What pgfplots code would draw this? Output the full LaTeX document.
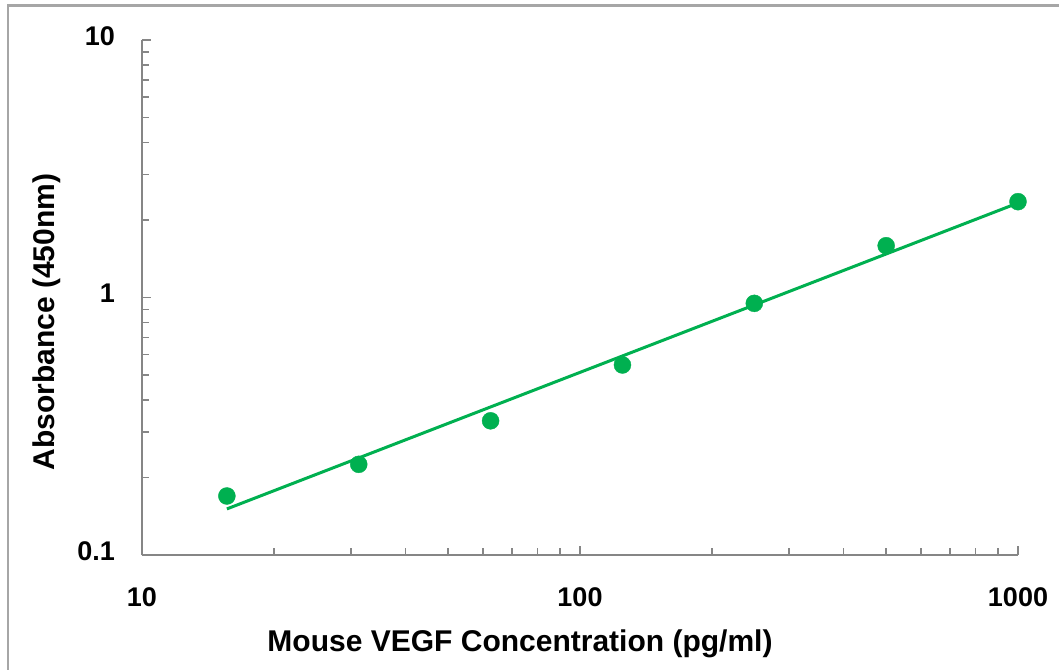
\documentclass[border=0pt]{standalone}
\usepackage{fontspec}
\setmainfont{Liberation Sans}
\usepackage{pgfplots}
\pgfplotsset{compat=1.18}
\definecolor{fitgreen}{RGB}{0,176,80}
\definecolor{axisgray}{RGB}{134,134,134}
\definecolor{framegray}{RGB}{166,166,166}

\begin{document}
\begin{tikzpicture}
\useasboundingbox (-142pt,-114pt) rectangle (917pt,555pt);
% outer chart frame (cut by the image on right and bottom)
\draw[framegray, line width=2.5pt] (-134pt,-130pt) -- (-134pt,549.5pt) -- (930pt,549.5pt);
\begin{axis}[
    scale only axis, width=876pt, height=515pt,
    xmode=log, ymode=log,
    xmin=10, xmax=1000, ymin=0.1, ymax=10,
    axis x line*=bottom, axis y line*=left,
    axis line style={axisgray, line width=2pt},
    tick style={axisgray, line width=1.5pt},
    tick align=inside,
    major tick length=9pt, minor tick length=7pt,
    xtick={10,100,1000}, xticklabels={10,100,1000},
    ytick={0.1,1,10}, yticklabels={0.1,1,10},
    minor xtick={20,30,40,50,60,70,80,90,200,300,400,500,600,700,800,900},
    minor ytick={0.2,0.3,0.4,0.5,0.6,0.7,0.8,0.9,2,3,4,5,6,7,8,9},
    /pgf/number format/assume math mode=true,
    every tick label/.append style={font=\fontsize{27}{27}\selectfont\bfseries, inner sep=0pt},
    xticklabel style={anchor=north, yshift=-32pt},
    yticklabel style={anchor=east, xshift=-27pt, yshift=4pt},
    label style={font=\fontsize{30}{32}\selectfont\bfseries},
    xlabel={Mouse VEGF Concentration (pg/ml)},
    ylabel={Absorbance (450nm)},
    xlabel style={at={([yshift=-96.7pt]axis description cs:0.4315,0)}, anchor=base},
    ylabel style={at={([xshift=-95pt]axis description cs:0,0.4524)}, anchor=center},
    clip=false,
]
\addplot[fitgreen, line width=3pt, no marks] coordinates {(15.625,0.151) (1000,2.328)};
\addplot[only marks, mark=*, mark size=8.5pt, color=fitgreen] coordinates {
    (15.625,0.1695) (31.25,0.225) (62.5,0.332) (125,0.547)
    (250,0.949) (500,1.589) (1000,2.356)
};
\end{axis}
\end{tikzpicture}
\end{document}
